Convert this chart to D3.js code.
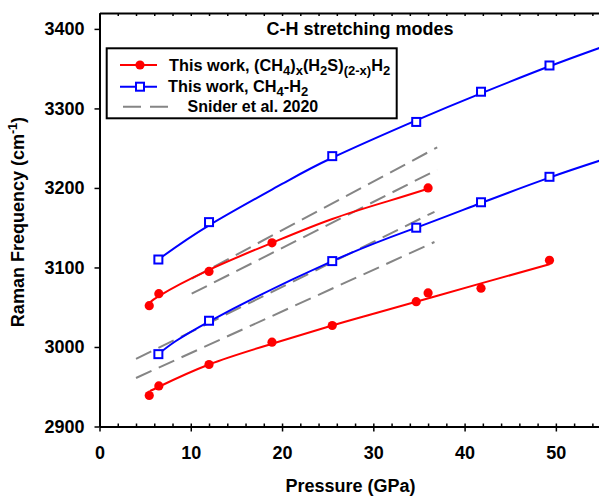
<!DOCTYPE html>
<html>
<head>
<meta charset="utf-8">
<script src="https://cdn.jsdelivr.net/npm/d3@7"></script>
<style>
  body { margin: 0; background: #fff; }
  text { font-family: "Liberation Sans", Arial, sans-serif; font-weight: bold; }
</style>
</head>
<body>
<div id="chart"></div>
<script>
// values: pressure (GPa) -> Raman frequency (cm-1)

// (CH4)x(H2S)(2-x)H2, upper branch
const mixUpperP = [5.45, 6.5, 12.0, 18.9, 36.0];
const mixUpperF = [3052, 3067, 3095, 3131, 3200];
// (CH4)x(H2S)(2-x)H2, lower branch
const mixLowerP = [5.45, 6.5, 12.0, 18.9, 25.5, 34.7, 36.0, 41.8, 49.3];
const mixLowerF = [2939, 2951, 2978, 3006, 3027, 3057, 3068, 3074, 3109];
// CH4-H2, upper branch
const ch4UpperP = [6.45, 12.0, 25.5, 34.7, 41.8, 49.3];
const ch4UpperF = [3110, 3157, 3240, 3283, 3321, 3354];
// CH4-H2, lower branch
const ch4LowerP = [6.45, 12.0, 25.5, 34.7, 41.8, 49.3];
const ch4LowerF = [2991, 3033, 3108, 3150, 3182, 3214];

// fitted curves
const mixUpperFitP = [5.45, 6.5, 12, 18.9, 25.5, 31.8, 36];
const mixUpperFitF = [3053, 3064, 3097, 3131, 3161, 3184, 3199];
const mixLowerFitP = [5.45, 6.5, 12, 18.9, 25.5, 30.7, 41.8, 49.3];
const mixLowerFitF = [2944, 2950, 2978, 3004, 3027, 3044, 3080, 3104];
const ch4UpperFitP = [6.45, 12, 20, 25.5, 34.7, 41.8, 49.3, 55];
const ch4UpperFitF = [3110, 3153, 3205, 3238, 3285, 3319, 3353, 3377];
const ch4LowerFitP = [6.45, 12, 25.5, 34.7, 41.8, 49.3, 55];
const ch4LowerFitF = [2991, 3032, 3108, 3150, 3181, 3213, 3235];

// Snider et al. 2020 straight lines: start and end
const sniderStartP = [10.1, 10.1, 4.0, 4.0];
const sniderStartF = [3086, 3067, 2985, 2961];
const sniderEndP = [37.0, 37.0, 36.7, 36.7];
const sniderEndF = [3251, 3223, 3170, 3132];

const xTicks = [0, 10, 20, 30, 40, 50];
const yTicks = [2900, 3000, 3100, 3200, 3300, 3400];

const W = 599, H = 497;
const margin = { top: 13, left: 99.5 };

const svg = d3.select("#chart")
  .append("svg")
  .attr("width", W)
  .attr("height", H);

const x = d3.scaleLinear().domain([0, 55]).range([margin.left, margin.left + 502]);
const y = d3.scaleLinear().domain([2900, 3420]).range([426.5, margin.top]);

const zip = (ps, fs) => ps.map((p, i) => ({ p: p, f: fs[i] }));

const line = d3.line()
  .x(d => x(d.p))
  .y(d => y(d.f))
  .curve(d3.curveNatural);

// Snider dashed lines
svg.selectAll(".snider")
  .data(sniderStartP.map((p, i) => [
    { p: p, f: sniderStartF[i] },
    { p: sniderEndP[i], f: sniderEndF[i] }
  ]))
  .enter()
  .append("path")
  .attr("class", "snider")
  .attr("d", d3.line().x(d => x(d.p)).y(d => y(d.f)))
  .attr("fill", "none")
  .attr("stroke", "#858585")
  .attr("stroke-width", 2)
  .attr("stroke-dasharray", "17,8");

// fitted curves
const fits = [
  { pts: zip(mixUpperFitP, mixUpperFitF), color: "#ff0000" },
  { pts: zip(mixLowerFitP, mixLowerFitF), color: "#ff0000" },
  { pts: zip(ch4UpperFitP, ch4UpperFitF), color: "#0000ff" },
  { pts: zip(ch4LowerFitP, ch4LowerFitF), color: "#0000ff" }
];
svg.selectAll(".fit")
  .data(fits)
  .enter()
  .append("path")
  .attr("class", "fit")
  .attr("d", d => line(d.pts))
  .attr("fill", "none")
  .attr("stroke", d => d.color)
  .attr("stroke-width", 2);

// red dots
svg.selectAll(".dot")
  .data(zip(mixUpperP, mixUpperF).concat(zip(mixLowerP, mixLowerF)))
  .enter()
  .append("circle")
  .attr("class", "dot")
  .attr("cx", d => x(d.p))
  .attr("cy", d => y(d.f))
  .attr("r", 4.6)
  .attr("fill", "#ff0000");

// blue open squares
svg.selectAll(".sq")
  .data(zip(ch4UpperP, ch4UpperF).concat(zip(ch4LowerP, ch4LowerF)))
  .enter()
  .append("rect")
  .attr("class", "sq")
  .attr("x", d => x(d.p) - 4)
  .attr("y", d => y(d.f) - 4)
  .attr("width", 8)
  .attr("height", 8)
  .attr("fill", "#fff")
  .attr("stroke", "#0000ff")
  .attr("stroke-width", 2);

// axes
function styleAxis(g) {
  g.select(".domain").attr("stroke", "#000").attr("stroke-width", 2);
  g.selectAll(".tick line").attr("stroke", "#000").attr("stroke-width", 1.5);
  g.selectAll("text")
    .attr("font-size", 18)
    .attr("font-family", "'Liberation Sans', Arial, sans-serif")
    .attr("font-weight", "bold")
    .attr("fill", "#000");
}

const minorX = d3.range(0, 56, 2);

// bottom: minor ticks inward, majors outward with labels
svg.append("g")
  .attr("transform", "translate(0," + y(2900) + ")")
  .call(d3.axisBottom(x).tickValues(minorX).tickSize(-3).tickSizeOuter(0).tickFormat(""))
  .call(styleAxis);
const xAxis = svg.append("g")
  .attr("transform", "translate(0," + y(2900) + ")")
  .call(d3.axisBottom(x).tickValues(xTicks).tickSize(5).tickSizeOuter(0).tickFormat(d3.format("d")))
  .call(styleAxis);
xAxis.select(".domain").remove();
xAxis.selectAll("text").attr("y", 20);

// top frame with minor ticks
svg.append("g")
  .attr("transform", "translate(0," + y(3420) + ")")
  .call(d3.axisTop(x).tickValues(minorX).tickSize(-3).tickSizeOuter(0).tickFormat(""))
  .call(styleAxis);

// left axis
const yAxis = svg.append("g")
  .attr("transform", "translate(" + x(0) + ",0)")
  .call(d3.axisLeft(y).tickValues(yTicks).tickSize(5).tickSizeOuter(0).tickFormat(d3.format("d")))
  .call(styleAxis);
yAxis.selectAll("text").attr("x", -15);

// text with sub/superscripts; dy carries the shift back for the next piece
function richText(t, parts, size) {
  let shift = 0;
  parts.forEach(function (part) {
    let target = 0, fs = size;
    if (part[1] === "sub") { target = size * 0.28; fs = size * 0.8; }
    if (part[1] === "sup") { target = -size * 0.4; fs = size * 0.7; }
    t.append("tspan")
      .attr("dy", target - shift)
      .attr("font-size", fs)
      .text(part[0]);
    shift = target;
  });
}

// axis titles
svg.append("text")
  .attr("x", (x(0) + x(55)) / 2)
  .attr("y", 492)
  .attr("text-anchor", "middle")
  .attr("font-size", 18)
  .text("Pressure (GPa)");

const yTitle = svg.append("text")
  .attr("transform", "translate(24," + 222 + ")rotate(-90)")
  .attr("text-anchor", "middle")
  .attr("font-size", 18);
richText(yTitle, [["Raman Frequency (cm"], ["-1", "sup"], [")"]], 18);

// chart title
svg.append("text")
  .attr("x", 360)
  .attr("y", 35)
  .attr("text-anchor", "middle")
  .attr("font-size", 18)
  .text("C-H stretching modes");

// legend
const legend = svg.append("g");
legend.append("rect")
  .attr("x", 106.7)
  .attr("y", 48.3)
  .attr("width", 290)
  .attr("height", 70)
  .attr("fill", "#fff")
  .attr("stroke", "#000")
  .attr("stroke-width", 2);

legend.append("line")
  .attr("x1", 120).attr("x2", 157).attr("y1", 65).attr("y2", 65)
  .attr("stroke", "#ff0000").attr("stroke-width", 2);
legend.append("circle")
  .attr("cx", 140).attr("cy", 65).attr("r", 4.6).attr("fill", "#ff0000");
const l1 = legend.append("text").attr("x", 169).attr("y", 70.5).attr("font-size", 16.3);
richText(l1, [["This work, (CH"], ["4", "sub"], [")"], ["x", "sub"], ["(H"], ["2", "sub"], ["S)"], ["(2-x)", "sub"], ["H"], ["2", "sub"]], 16.3);

legend.append("line")
  .attr("x1", 120).attr("x2", 157).attr("y1", 86.7).attr("y2", 86.7)
  .attr("stroke", "#0000ff").attr("stroke-width", 2);
legend.append("rect")
  .attr("x", 136).attr("y", 82.7).attr("width", 8).attr("height", 8)
  .attr("fill", "#fff").attr("stroke", "#0000ff").attr("stroke-width", 2);
const l2 = legend.append("text").attr("x", 168).attr("y", 91.5).attr("font-size", 16.3);
richText(l2, [["This work, CH"], ["4", "sub"], ["-H"], ["2", "sub"]], 16.3);

legend.append("line")
  .attr("x1", 123).attr("x2", 168).attr("y1", 106.7).attr("y2", 106.7)
  .attr("stroke", "#858585").attr("stroke-width", 2)
  .attr("stroke-dasharray", "18,9");
legend.append("text")
  .attr("x", 187.5).attr("y", 112)
  .attr("font-size", 16)
  .text("Snider et al. 2020");
</script>
</body>
</html>
